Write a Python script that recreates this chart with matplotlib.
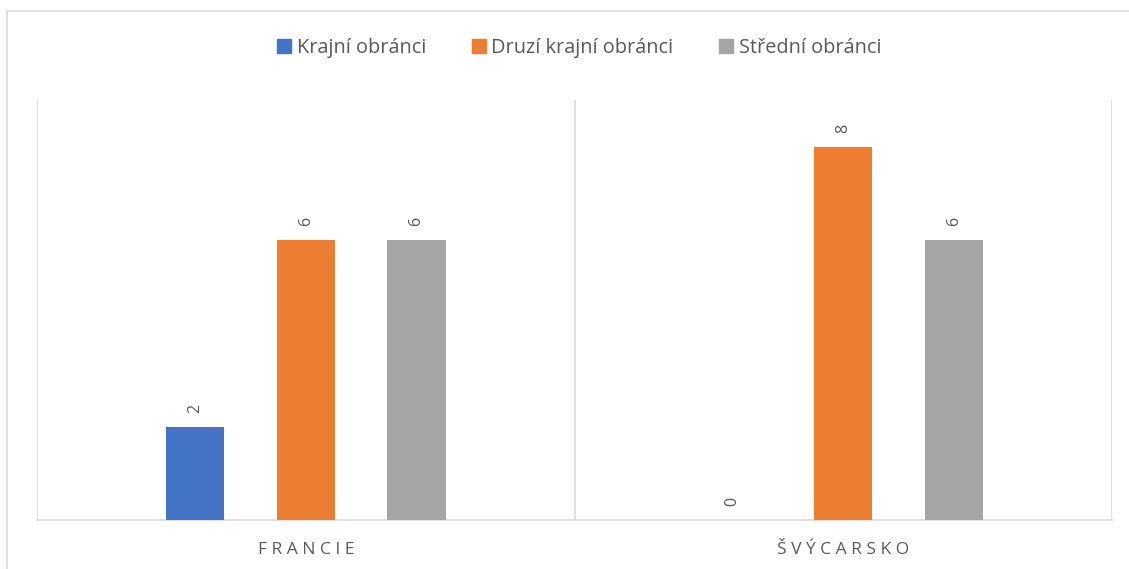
import numpy as np
import matplotlib.pyplot as plt
from matplotlib.lines import Line2D

categories = ["F R A N C I E", "Š V Ý C A R S K O"]
series_names = ["Krajní obránci", "Druzí krajní obránci", "Střední obránci"]
krajni = [2, 0]
druzi = [6, 8]
stredni = [6, 6]
colors = ["#4472C4", "#ED7D31", "#A5A5A5"]

plt.rcParams['font.family'] = ['Open Sans', 'DejaVu Sans']
txt = "#595959"
grid = "#D9D9D9"

fig = plt.figure(figsize=(11.29, 5.69), dpi=100)
ax = fig.add_axes([37/1129, 1-520/569, (1112-37)/1129, 420/569])

x = np.arange(len(categories))
w = 0.108
off = 0.206
for k, vals in enumerate([krajni, druzi, stredni]):
    pos = x + (k-1)*off
    ax.bar(pos, vals, width=w, color=colors[k], label=series_names[k], zorder=3)
    for p, v in zip(pos, vals):
        ax.annotate(str(v), (p, v), xytext=(0, 10), textcoords="offset points",
                    ha="center", va="bottom", rotation=90, fontsize=11.5, color=txt)

ax.set_xlim(-0.5, 1.5)
ax.set_ylim(0, 9)
ax.set_yticks([])
ax.set_xticks([])
for xv in [-0.5, 0.5, 1.5]:
    ax.axvline(xv, color=grid, lw=1.2, zorder=1)
for s in ["top", "left", "right"]:
    ax.spines[s].set_visible(False)
ax.spines["bottom"].set_color(grid)
ax.spines["bottom"].set_linewidth(1.2)
for i, c in enumerate(categories):
    ax.text(x[i], -0.64, c, ha="center", va="center", fontsize=12.5, color=txt)

# outer chart border (partly cropped)
fig.add_artist(Line2D([7/1129, 7/1129], [0, 1-11/569], color=grid, lw=1.2))
fig.add_artist(Line2D([7/1129, 1], [1-11/569, 1-11/569], color=grid, lw=1.2))

handles = [plt.Rectangle((0, 0), 1, 1, color=c) for c in colors]
leg = fig.legend(handles, series_names, loc="center", bbox_to_anchor=(0.513, 1-48/569),
                 ncol=3, frameon=False, fontsize=14.3, handlelength=0.7, handleheight=0.7,
                 handletextpad=0.3, columnspacing=2.3)
for t in leg.get_texts():
    t.set_color(txt)

fig.savefig("out.png", dpi=100)
